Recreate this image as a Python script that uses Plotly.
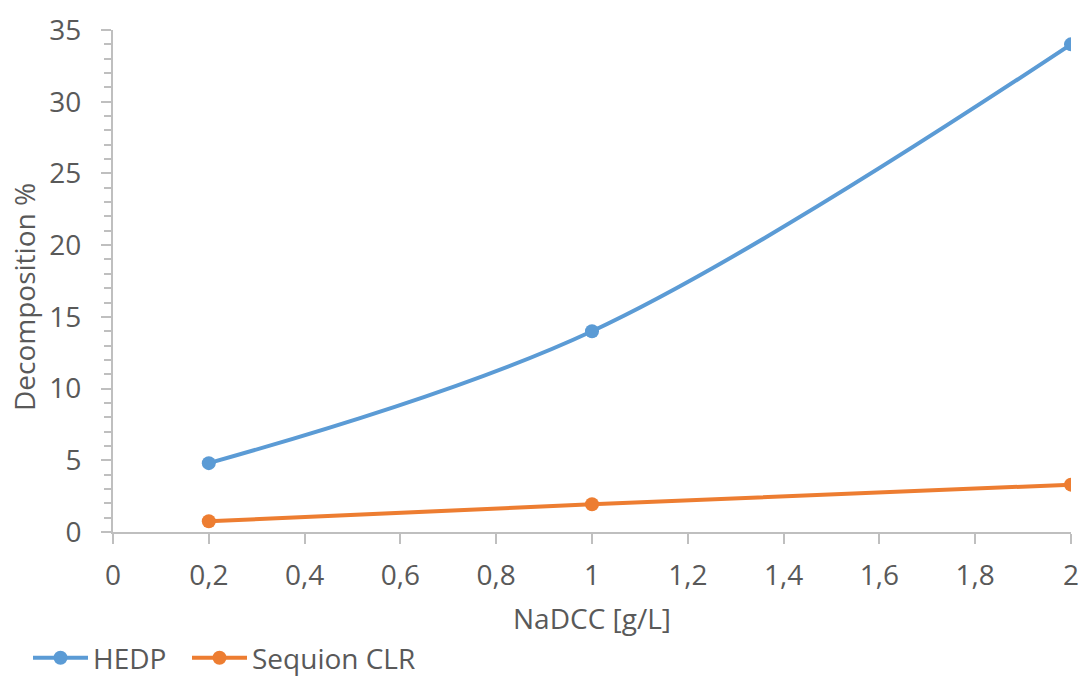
import plotly.graph_objects as go

x_nadcc = [0.2, 1, 2]
hedp = [4.8, 14.0, 34.0]
sequion = [0.75, 1.93, 3.3]
series_names = ["HEDP", "Sequion CLR"]
x_title = "NaDCC [g/L]"
y_title = "Decomposition %"

FONT = "Open Sans"
TXT = "#595959"
AX = "#BFBFBF"
W, H = 1082, 677
L, R, T, B = 113, 11, 30, 145
FS = 28

fig = go.Figure()
fig.add_trace(go.Scatter(x=x_nadcc, y=hedp, name=series_names[0], mode="lines+markers",
                         line=dict(color="#5B9BD5", width=4, shape="spline", smoothing=1),
                         marker=dict(color="#5B9BD5", size=14), legend="legend"))
fig.add_trace(go.Scatter(x=x_nadcc, y=sequion, name=series_names[1], mode="lines+markers",
                         line=dict(color="#ED7D31", width=4, shape="spline", smoothing=1),
                         marker=dict(color="#ED7D31", size=14), legend="legend2"))

plot_h = H - T - B
plot_w = W - L - R


def leg(px_x):
    return dict(orientation="h", x=(px_x - L) / plot_w, xanchor="left",
                y=(T + plot_h - 658) / plot_h, yanchor="middle",
                font=dict(size=FS, color=TXT), itemwidth=55,
                bgcolor="rgba(0,0,0,0)")


fig.update_layout(
    width=W, height=H,
    margin=dict(l=L, r=R, t=T, b=B, autoexpand=False),
    paper_bgcolor="white", plot_bgcolor="white",
    font=dict(family=FONT, size=FS, color=TXT),
    separators=", ",
    showlegend=True,
    legend=leg(28),
    legend2=leg(187),
    xaxis=dict(range=[0, 2], dtick=0.2, tick0=0, showgrid=False, zeroline=False,
               showline=True, linecolor=AX, linewidth=2,
               ticks="outside", ticklen=10, tickwidth=2, tickcolor=AX,
               ticklabelstandoff=7,
               title=dict(text=x_title, standoff=18, font=dict(size=FS, color=TXT))),
    yaxis=dict(range=[0, 35], dtick=5, tick0=0, showgrid=False, zeroline=False,
               showline=True, linecolor=AX, linewidth=2,
               ticks="outside", ticklen=10, tickwidth=2, tickcolor=AX,
               ticklabelstandoff=14,
               minor=dict(dtick=1, ticks="outside", ticklen=7, tickwidth=2, tickcolor=AX,
                          showgrid=False)),
    annotations=[dict(text=y_title, textangle=-90, xref="paper", yref="paper",
                      x=(24 - L) / plot_w, y=(T + plot_h - 297) / plot_h,
                      xanchor="center", yanchor="middle", showarrow=False,
                      font=dict(size=FS, color=TXT))],
)

fig.write_html("out.html")
